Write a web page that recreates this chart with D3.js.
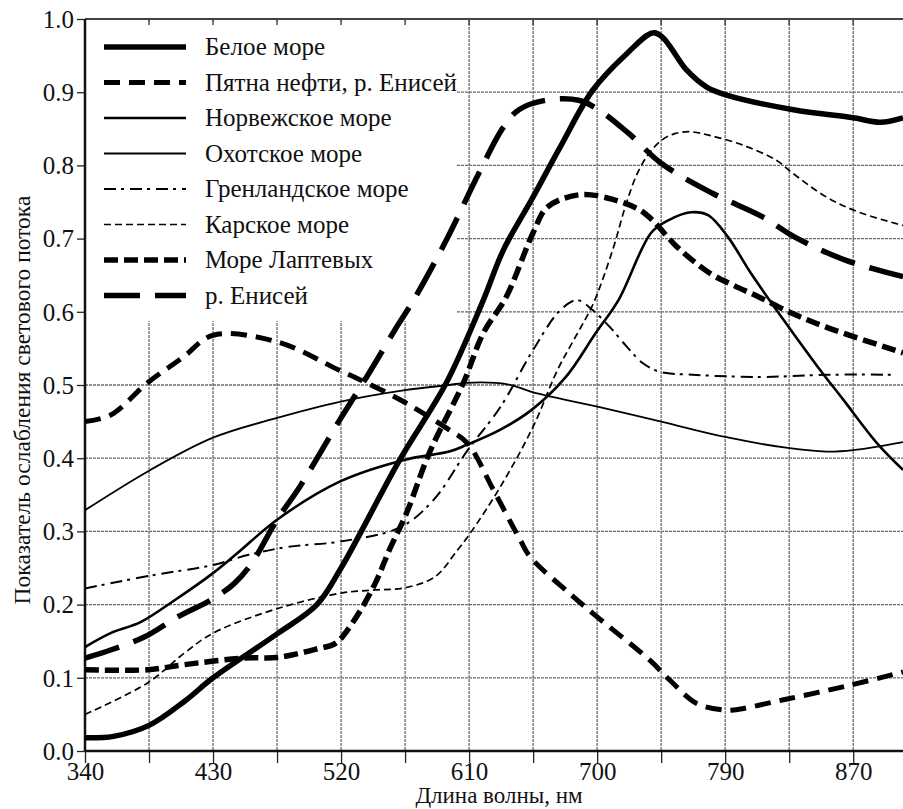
<!DOCTYPE html>
<html><head><meta charset="utf-8">
<script src="https://cdn.jsdelivr.net/npm/d3@7"></script>
<style>svg text, .cs{font-family:"Liberation Serif" !important}</style>
</head><body style="margin:0">
<svg id="c" width="903" height="809"></svg>
<script>
// ---- data ----
const seriesNames = ["Белое море","Пятна нефти, р. Енисей","Норвежское море","Охотское море","Гренландское море","Карское море","Море Лаптевых","р. Енисей"];
const xTickValues = [340,430,520,610,700,790,880];
const xTickLabels = ["340","430","520","610","700","790","870"];
const yTickValues = [0,0.1,0.2,0.3,0.4,0.5,0.6,0.7,0.8,0.9,1.0];
const yTickLabels = ["0.0","0.1","0.2","0.3","0.4","0.5","0.6","0.7","0.8","0.9","1.0"];
const xTitle = "Длина волны, нм";
const yTitle = "Показатель ослабления светового потока";

const beloe = [[340,0.018],[360,0.02],[385,0.035],[410,0.068],[430,0.10],[475,0.16],[503,0.20],[520,0.25],[561,0.397],[594,0.503],[620,0.616],[634,0.684],[655,0.757],[674,0.825],[697,0.903],[721,0.953],[739,0.981],[746,0.975],[763,0.93],[777,0.907],[791,0.896],[838,0.876],[880,0.865],[899,0.859],[915,0.865]];
const oilSpots = [[340,0.45],[358,0.459],[384,0.503],[409,0.538],[430,0.568],[475,0.559],[519,0.52],[538,0.503],[566,0.475],[595,0.44],[609,0.42],[627,0.357],[646,0.288],[653,0.265],[682,0.213],[697,0.188],[737,0.124],[751,0.097],[770,0.065],[789,0.056],[796,0.056],[831,0.07],[878,0.09],[915,0.108]];
const norwegian = [[340,0.142],[358,0.161],[379,0.176],[403,0.206],[430,0.243],[447,0.27],[475,0.316],[519,0.368],[565,0.398],[596,0.409],[608,0.418],[631,0.438],[654,0.466],[678,0.511],[699,0.571],[715,0.616],[738,0.708],[750,0.725],[766,0.736],[778,0.732],[792,0.702],[808,0.653],[831,0.589],[855,0.525],[873,0.48],[897,0.42],[915,0.384]];
const okhotsk = [[340,0.329],[386,0.384],[430,0.428],[475,0.455],[519,0.477],[565,0.493],[596,0.5],[608,0.503],[637,0.501],[655,0.49],[701,0.47],[745,0.45],[790,0.429],[834,0.414],[861,0.409],[880,0.411],[915,0.422]];
const greenland = [[340,0.222],[345,0.224],[387,0.24],[430,0.254],[455,0.268],[483,0.279],[519,0.286],[562,0.306],[585,0.343],[609,0.411],[632,0.47],[655,0.548],[674,0.602],[686,0.616],[697,0.602],[709,0.579],[721,0.552],[732,0.53],[744,0.518],[767,0.514],[815,0.511],[862,0.514],[909,0.514]];
const kara = [[340,0.05],[384,0.093],[410,0.134],[430,0.161],[476,0.195],[521,0.216],[544,0.22],[565,0.223],[586,0.238],[602,0.275],[611,0.298],[632,0.361],[655,0.443],[672,0.52],[686,0.57],[697,0.61],[711,0.685],[720,0.745],[728,0.788],[736,0.815],[745,0.834],[754,0.843],[765,0.846],[779,0.841],[802,0.828],[826,0.807],[837,0.79],[861,0.757],[884,0.736],[915,0.718]];
const laptev = [[340,0.111],[384,0.111],[410,0.118],[452,0.127],[476,0.128],[504,0.14],[516,0.147],[528,0.175],[544,0.229],[554,0.275],[566,0.325],[582,0.407],[606,0.503],[620,0.571],[636,0.62],[655,0.708],[665,0.743],[688,0.76],[712,0.753],[730,0.739],[739,0.725],[756,0.689],[779,0.653],[796,0.636],[814,0.62],[837,0.598],[861,0.579],[915,0.544]];
const yenisei = [[340,0.127],[358,0.138],[382,0.156],[405,0.183],[430,0.208],[445,0.229],[457,0.256],[475,0.316],[491,0.361],[519,0.452],[538,0.511],[559,0.579],[571,0.616],[594,0.698],[617,0.79],[634,0.852],[645,0.876],[664,0.889],[687,0.889],[701,0.876],[722,0.844],[745,0.803],[781,0.762],[816,0.73],[839,0.702],[874,0.671],[915,0.648]];

const seriesData = [beloe, oilSpots, norwegian, okhotsk, greenland, kara, laptev, yenisei];
const seriesWidth = [5.5, 5, 2.6, 1.8, 2, 1.7, 5.5, 5.5];
const seriesDash = [null, "16,9", null, null, "12,5,3,6", "7,4", "14,6", "36,15"];

// ---- layout ----
const svg = d3.select("#c");
const L = 85, R = 903, T = 19, B = 751;
const x = d3.scaleLinear().domain([340, 915]).range([L, R]);
const y = d3.scaleLinear().domain([0, 1]).range([B, T]);

svg.append("rect").attr("width",903).attr("height",809).attr("fill","#fff");

svg.append("defs").append("clipPath").attr("id","clip")
  .append("rect").attr("x",L).attr("y",T).attr("width",R-L).attr("height",B-T);

// grid
const gridX = d3.range(385, 900, 45);
const gridY = d3.range(1, 10).map(d => d/10);
const grid = svg.append("g").attr("stroke","#6a6a6a").attr("stroke-width",1.3).attr("stroke-dasharray","3,1");
grid.selectAll("line.v").data(gridX).join("line").attr("class","v")
  .attr("x1",d=>x(d)).attr("x2",d=>x(d)).attr("y1",T).attr("y2",B);
grid.selectAll("line.h").data(gridY).join("line").attr("class","h")
  .attr("x1",L).attr("x2",R).attr("y1",d=>y(d)).attr("y2",d=>y(d));

// legend background masks grid
svg.append("rect").attr("x",L+1).attr("y",T+2).attr("width",370).attr("height",300).attr("fill","#fff");

// top ticks
svg.append("g").selectAll("line").data(gridX).join("line")
  .attr("x1",d=>x(d)).attr("x2",d=>x(d)).attr("y1",T).attr("y2",T+6)
  .attr("stroke","#333").attr("stroke-width",1.3);

// axes
const xAxis = d3.axisBottom(x).tickValues(d3.range(340, 900, 45)).tickSize(12)
  .tickFormat(d => { const i = xTickValues.indexOf(d); return i >= 0 ? xTickLabels[i] : ""; });
const gx = svg.append("g").attr("transform",`translate(0,${B})`).call(xAxis);
gx.attr("font-family","Liberation Serif").attr("font-size",25);
gx.select(".domain").remove();
gx.selectAll(".tick line").attr("stroke","#222").attr("stroke-width",1.3);
gx.selectAll(".tick text").attr("class","cs").attr("font-family","Liberation Serif").attr("font-size",25).attr("fill","#111").attr("dy","0").attr("y",29);

const yAxis = d3.axisLeft(y).tickValues(yTickValues).tickSize(8)
  .tickFormat((d,i) => yTickLabels[i]);
const gy = svg.append("g").attr("transform",`translate(${L},0)`).call(yAxis);
gy.attr("font-family","Liberation Serif").attr("font-size",25);
gy.select(".domain").remove();
gy.selectAll(".tick line").attr("stroke","#222").attr("stroke-width",1.3);
gy.selectAll(".tick text").attr("class","cs").attr("font-family","Liberation Serif").attr("font-size",25).attr("fill","#111").attr("x",-11).attr("dy","0.33em");

// frame
svg.append("line").attr("x1",L).attr("x2",R).attr("y1",T).attr("y2",T).attr("stroke","#444").attr("stroke-width",2);
svg.append("line").attr("x1",L).attr("x2",L).attr("y1",T).attr("y2",B).attr("stroke","#111").attr("stroke-width",2.5);
svg.append("line").attr("x1",L).attr("x2",R).attr("y1",B).attr("y2",B).attr("stroke","#111").attr("stroke-width",2.5);

// curves
const line = d3.line().x(d=>x(d[0])).y(d=>y(d[1])).curve(d3.curveCatmullRom.alpha(0.5));
const gl = svg.append("g").attr("clip-path","url(#clip)");
seriesData.forEach((s,i) => {
  gl.append("path").datum(s).attr("d",line).attr("fill","none").attr("stroke","#000")
    .attr("stroke-width",seriesWidth[i]).attr("stroke-dasharray",seriesDash[i]);
});

// legend
const lg = svg.append("g");
seriesNames.forEach((n,i) => {
  const yy = 47 + i*35.5;
  lg.append("line").attr("x1",104).attr("x2",186).attr("y1",yy).attr("y2",yy)
    .attr("stroke","#000").attr("stroke-width",seriesWidth[i]).attr("stroke-dasharray",seriesDash[i]);
  lg.append("text").attr("x",205).attr("y",yy).attr("dy","0.33em").attr("font-size",25).attr("fill","#111")
    .text(n).attr("class","cs").attr("font-family","Liberation Serif");
});

// titles
svg.append("text").attr("x",499).attr("y",803).attr("text-anchor","middle").attr("font-size",23).attr("fill","#111")
  .text(xTitle).attr("class","cs").attr("font-family","Liberation Serif");
svg.append("text").attr("transform","translate(30,400) rotate(-90)").attr("text-anchor","middle").attr("font-size",23.5).attr("fill","#111")
  .text(yTitle).attr("class","cs").attr("font-family","Liberation Serif");
</script></body></html>
